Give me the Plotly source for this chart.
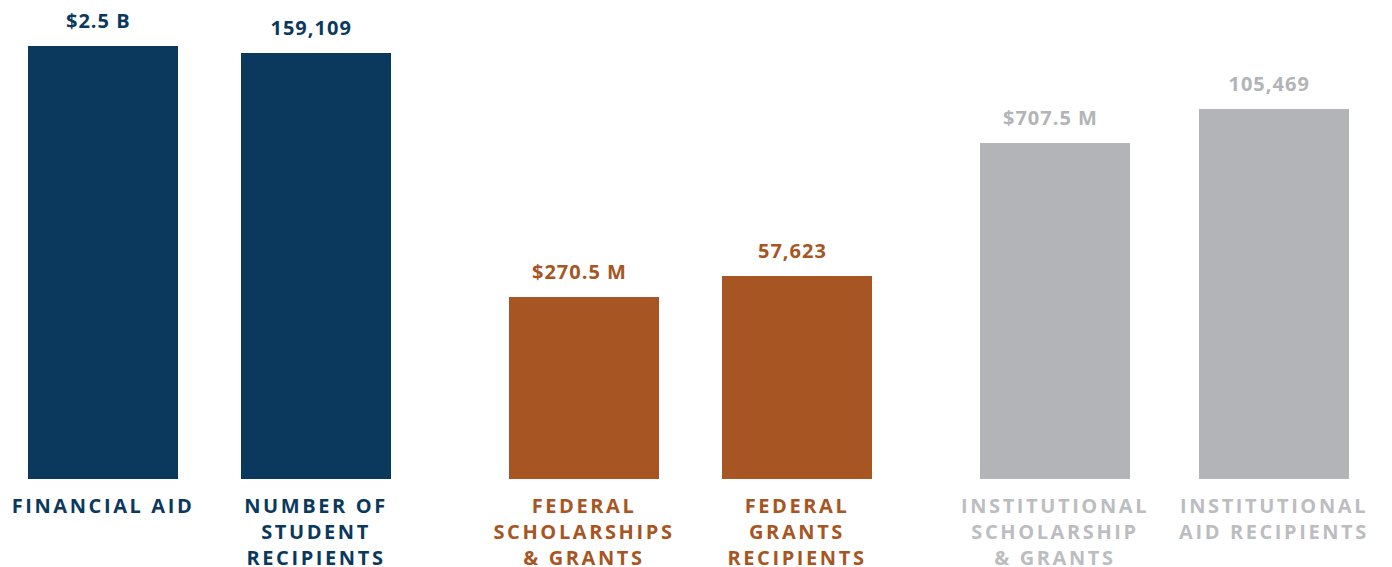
import plotly.graph_objects as go

# ---- data ----
categories = [
    "FINANCIAL AID",
    "NUMBER OF<br>STUDENT<br>RECIPIENTS",
    "FEDERAL<br>SCHOLARSHIPS<br>& GRANTS",
    "FEDERAL<br>GRANTS<br>RECIPIENTS",
    "INSTITUTIONAL<br>SCHOLARSHIP<br>& GRANTS",
    "INSTITUTIONAL<br>AID RECIPIENTS",
]
value_labels = ["$2.5 B", "159,109", "$270.5 M", "57,623", "$707.5 M", "105,469"]
# relative (visual) bar heights as drawn in the picture
bar_heights = [433, 426, 182, 203, 336, 370]
groups = ["all", "all", "federal", "federal", "institutional", "institutional"]

# ---- layout / style ----
bar_x = [103, 316, 584, 797, 1055, 1274]
bar_color = {"all": "#0A395D", "federal": "#A65523", "institutional": "#B3B4B7"}
label_color = {"all": "#0A395D", "federal": "#A65523", "institutional": "#BCBDC0"}
FONT = "Open Sans"

fig = go.Figure()
fig.add_trace(go.Bar(
    x=bar_x,
    y=bar_heights,
    width=150,
    marker=dict(color=[bar_color[g] for g in groups], line=dict(width=0)),
    hoverinfo="skip",
))

for xv, yv, txt, g in zip(bar_x, bar_heights, value_labels, groups):
    fig.add_annotation(
        x=xv, y=yv, text=f"<b>{txt}</b>", showarrow=False,
        xanchor="center", yanchor="bottom", yshift=10, xshift=-5,
        font=dict(family=FONT, size=20, color=bar_color[g]),
    )

ticktext = [f"<span style='color:{label_color[g]}'><b>{c}</b></span>"
            for c, g in zip(categories, groups)]

fig.update_layout(
    width=1392, height=567,
    margin=dict(l=0, r=0, t=0, b=88, autoexpand=False),
    paper_bgcolor="white", plot_bgcolor="white",
    showlegend=False,
    xaxis=dict(range=[0, 1392], tickvals=bar_x, ticktext=ticktext,
               showgrid=False, zeroline=False, showline=False, ticks="",
               ticklabelstandoff=13, automargin=False,
               tickfont=dict(family=FONT, size=20), fixedrange=True),
    yaxis=dict(range=[0, 479], visible=False, fixedrange=True),
)

css = ("html,body{margin:0;padding:0;} "
       ".xtick text{letter-spacing:2.6px;} "
       ".annotation-text{letter-spacing:1px;}")
post = ("var s=document.createElement('style');s.textContent='" + css +
        "';document.head.appendChild(s);")

fig.write_html("out.html", post_script=post, config={"displayModeBar": False})
